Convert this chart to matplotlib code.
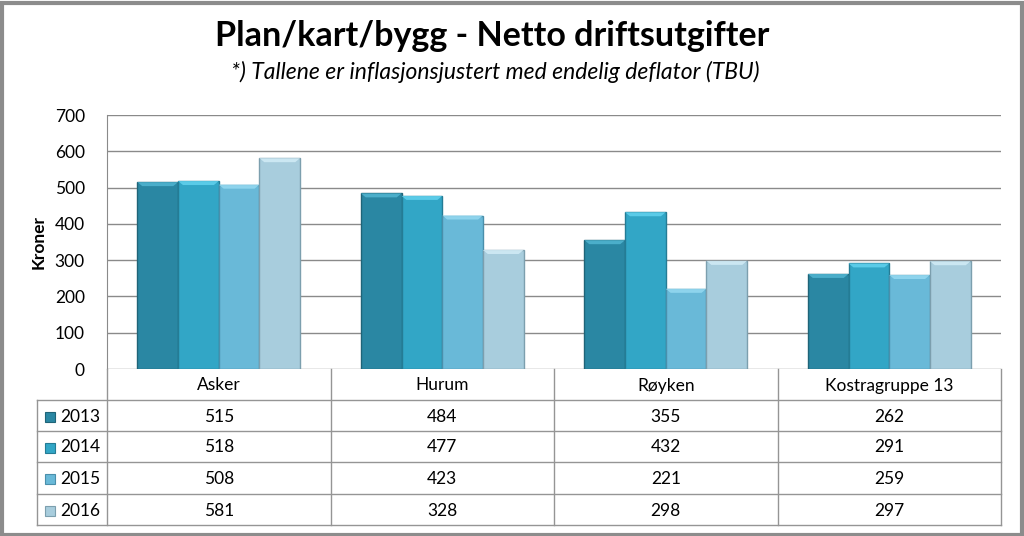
import matplotlib
matplotlib.use("Agg")
import matplotlib.pyplot as plt
import numpy as np
from matplotlib.patches import Rectangle, Polygon
from matplotlib.lines import Line2D

categories = ["Asker", "Hurum", "Røyken", "Kostragruppe 13"]
years = ["2013", "2014", "2015", "2016"]
values = {
    "2013": [515, 484, 355, 262],
    "2014": [518, 477, 432, 291],
    "2015": [508, 423, 221, 259],
    "2016": [581, 328, 298, 297],
}
colors = ["#2a87a3", "#32a6c6", "#69b9d8", "#a8cddd"]
edge_colors = ["#1f6478", "#247c95", "#4a8fab", "#7c9fae"]
top_colors = ["#4fb3cf", "#5fd0ec", "#93d8f0", "#d0eaf5"]

title = "Plan/kart/bygg - Netto driftsutgifter"
subtitle = "*) Tallene er inflasjonsjustert med endelig deflator (TBU)"
ylabel = "Kroner"
yticks = [0, 100, 200, 300, 400, 500, 600, 700]

W, H = 1024, 536
fig = plt.figure(figsize=(W / 100, H / 100), dpi=100)
fig.patch.set_facecolor("white")

font = "Lato"
fs = 12.5

# outer border
fig.add_artist(Rectangle((1.5 / W, 1.5 / H), 1 - 4 / W, 1 - 4 / H, transform=fig.transFigure,
                         fill=False, edgecolor="#8c8c8c", linewidth=3))

# plot area
x0, x1 = 107, 1001
ytop, ybot = 115, 369
ax = fig.add_axes([x0 / W, (H - ybot) / H, (x1 - x0) / W, (ybot - ytop) / H])
ax.set_xlim(0, len(categories))
ax.set_ylim(0, 700)
ax.set_yticks(yticks)
ax.set_yticklabels([str(t) for t in yticks], fontsize=fs, family=font)
ax.set_xticks([])
ax.tick_params(axis="y", length=0, pad=16)
ax.grid(axis="y", color="#8a8a8a", linewidth=1)
ax.set_axisbelow(True)
for s in ["top", "right", "bottom"]:
    ax.spines[s].set_visible(False)
ax.spines["left"].set_color("#8a8a8a")
ax.set_ylabel(ylabel, fontsize=fs, fontweight="bold", family=font, labelpad=6)

bw = 0.182
n = len(years)
bev = 11  # bevel height in data units
for i, y in enumerate(years):
    xs = np.arange(len(categories)) + 0.5 + (i - (n - 1) / 2) * bw
    vals = values[y]
    ax.bar(xs, vals, width=bw, color=colors[i], edgecolor=edge_colors[i], linewidth=1, zorder=3)
    for xc, v in zip(xs, vals):
        l, r = xc - bw / 2, xc + bw / 2
        ins = bw * 0.12
        ax.add_patch(Polygon([[l, v], [r, v], [r - ins, v - bev], [l + ins, v - bev]],
                             closed=True, facecolor=top_colors[i], edgecolor="none", zorder=4, alpha=0.9))

# titles
fig.text(492 / W, 1 - 36 / H, title, ha="center", va="center", fontsize=24.5, fontweight="bold", family=font)
fig.text(495 / W, 1 - 72 / H, subtitle, ha="center", va="center", fontsize=16.5, style="italic", family=font)

# data table
tab = fig.add_axes([0, 0, 1, 1])
tab.set_xlim(0, W)
tab.set_ylim(H, 0)
tab.axis("off")
lc = "#959595"
col_edges = [x0 + (x1 - x0) * k / len(categories) for k in range(len(categories) + 1)]
row_edges = [369, 400, 431, 462, 494, 525]
leg_x = 37
for cx in col_edges:
    tab.add_line(Line2D([cx, cx], [row_edges[0], row_edges[-1]], color=lc, lw=1))
tab.add_line(Line2D([leg_x, leg_x], [row_edges[1], row_edges[-1]], color=lc, lw=1))
for ry in row_edges[1:]:
    tab.add_line(Line2D([leg_x, x1], [ry, ry], color=lc, lw=1))
for j, c in enumerate(categories):
    cx = (col_edges[j] + col_edges[j + 1]) / 2
    tab.text(cx, (row_edges[0] + row_edges[1]) / 2 + 1, c, ha="center", va="center", fontsize=fs, family=font)
for i, y in enumerate(years):
    cy = (row_edges[i + 1] + row_edges[i + 2]) / 2 + 1
    tab.add_patch(Rectangle((45, cy - 5), 10, 10, facecolor=colors[i], edgecolor=edge_colors[i], lw=0.8))
    tab.text(60, cy, y, ha="left", va="center", fontsize=fs, family=font)
    for j in range(len(categories)):
        cx = (col_edges[j] + col_edges[j + 1]) / 2
        tab.text(cx, cy, str(values[y][j]), ha="center", va="center", fontsize=fs, family=font)

fig.savefig("out.png", dpi=100)
